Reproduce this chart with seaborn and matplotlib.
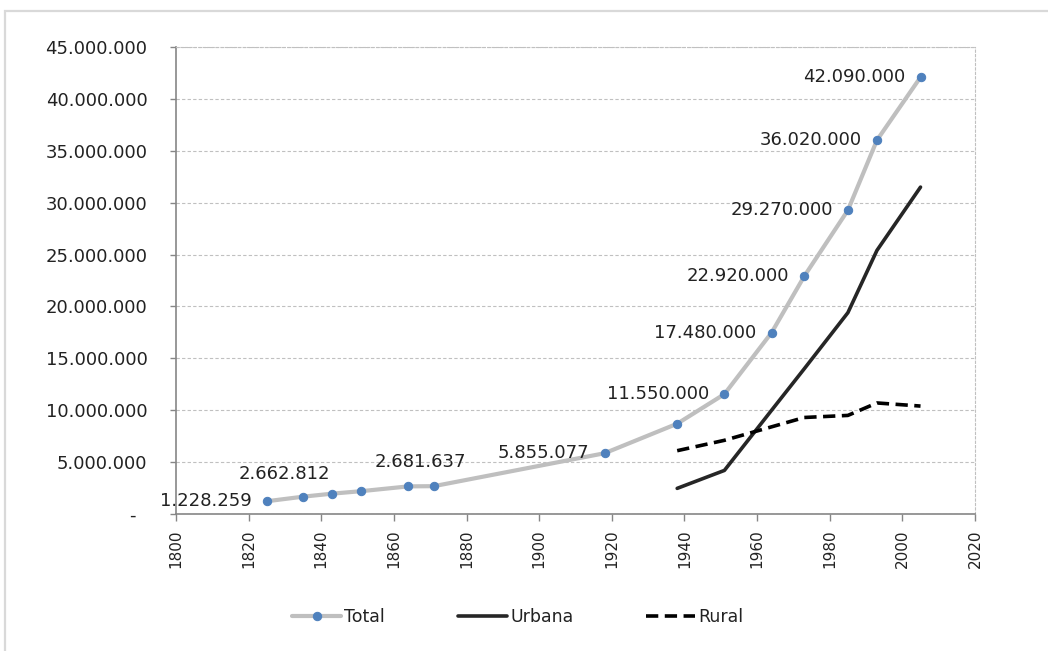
import pandas as pd
import numpy as np
import seaborn as sns
import matplotlib.pyplot as plt
from matplotlib.ticker import FuncFormatter, MultipleLocator
from matplotlib.patches import Rectangle

sns.set_style('white')
plt.rcParams['font.family'] = ['DejaVu Sans']

# Colombia population by census year
total_years = [1825, 1835, 1843, 1851, 1864, 1871, 1918, 1938, 1951, 1964, 1973, 1985, 1993, 2005]
total_vals = [1228259, 1670000, 1960000, 2200000, 2662812, 2681637, 5855077, 8700000,
              11550000, 17480000, 22920000, 29270000, 36020000, 42090000]

area_years = [1938, 1951, 1964, 1973, 1985, 1993, 2005]
urbana_vals = [2470000, 4200000, 10000000, 14000000, 19400000, 25400000, 31500000]
rural_vals = [6100000, 7100000, 8400000, 9300000, 9500000, 10700000, 10400000]

# labelled points: (year, text)
labels = [(1825, '1.228.259'), (1864, '2.662.812'), (1871, '2.681.637'), (1918, '5.855.077'),
          (1951, '11.550.000'), (1964, '17.480.000'), (1973, '22.920.000'),
          (1985, '29.270.000'), (1993, '36.020.000'), (2005, '42.090.000')]

df_total = pd.DataFrame({'year': total_years, 'pop': total_vals})
df_area = pd.DataFrame({'year': area_years, 'urbana': urbana_vals, 'rural': rural_vals})

fig = plt.figure(figsize=(10.48, 6.51), dpi=100)
ax = fig.add_axes([176/1048, 1-514/651, (975-176)/1048, (514-47)/651])

sns.lineplot(data=df_total, x='year', y='pop', ax=ax, color='#BFBFBF', linewidth=3,
             marker='o', markersize=6, markerfacecolor='#4F81BD', markeredgecolor='#4F81BD',
             label='Total', zorder=3)
sns.lineplot(data=df_area, x='year', y='urbana', ax=ax, color='#262626', linewidth=2.6,
             label='Urbana', zorder=2)
sns.lineplot(data=df_area, x='year', y='rural', ax=ax, color='#000000', linewidth=2.6,
             dashes=False, label='Rural', zorder=2)
ax.lines[-1].set_dashes((3.4, 1.8))

txt_color = '#222222'
lookup = dict(zip(total_years, total_vals))
for yr, t in labels:
    off = (-15, 0)
    if t == '2.662.812':
        off = (-78, 12)
    elif t == '2.681.637':
        off = (32, 24)
    ax.annotate(t, (yr, lookup[yr]), xytext=off, textcoords='offset pixels',
                ha='right', va='center', fontsize=13, color=txt_color)

ax.set_xlim(1800, 2020)
ax.set_ylim(0, 45000000)
ax.xaxis.set_major_locator(MultipleLocator(20))
ax.yaxis.set_major_locator(MultipleLocator(5000000))
ax.yaxis.set_major_formatter(FuncFormatter(lambda v, p: '-  ' if v == 0 else f'{v:,.0f}'.replace(',', '.')))
ax.tick_params(axis='x', labelrotation=90, labelsize=11, colors='#868686', labelcolor=txt_color,
               direction='out', length=5, width=1, bottom=True, pad=6)
ax.tick_params(axis='y', labelsize=13, colors='#868686', labelcolor=txt_color,
               direction='out', length=4.5, width=1, left=True, pad=16)
ax.set_xlabel('')
ax.set_ylabel('')

ax.grid(axis='y', color='#C0C0C0', linestyle=(0, (3, 2)), linewidth=0.8)
for side in ['left', 'bottom']:
    ax.spines[side].set_color('#868686')
    ax.spines[side].set_linewidth(1.2)
for side in ['top', 'right']:
    ax.spines[side].set_color('#C0C0C0')
    ax.spines[side].set_linestyle((0, (2, 2)))
    ax.spines[side].set_linewidth(0.8)

ax.get_legend().remove()
handles, lbls = ax.get_legend_handles_labels()
fig.legend(handles, lbls, loc='center', bbox_to_anchor=(518/1048, 1-617/651), ncol=3,
           frameon=False, fontsize=12.5, handlelength=2.8, columnspacing=4.2, handletextpad=0.2,
           labelcolor=txt_color)

# outer chart border
fig.add_artist(Rectangle((5/1048, -0.05), 1.2, 1-11/651+0.05, transform=fig.transFigure,
                         fill=False, edgecolor='#D9D9D9', linewidth=1.6))

plt.savefig('out.png', dpi=100)
